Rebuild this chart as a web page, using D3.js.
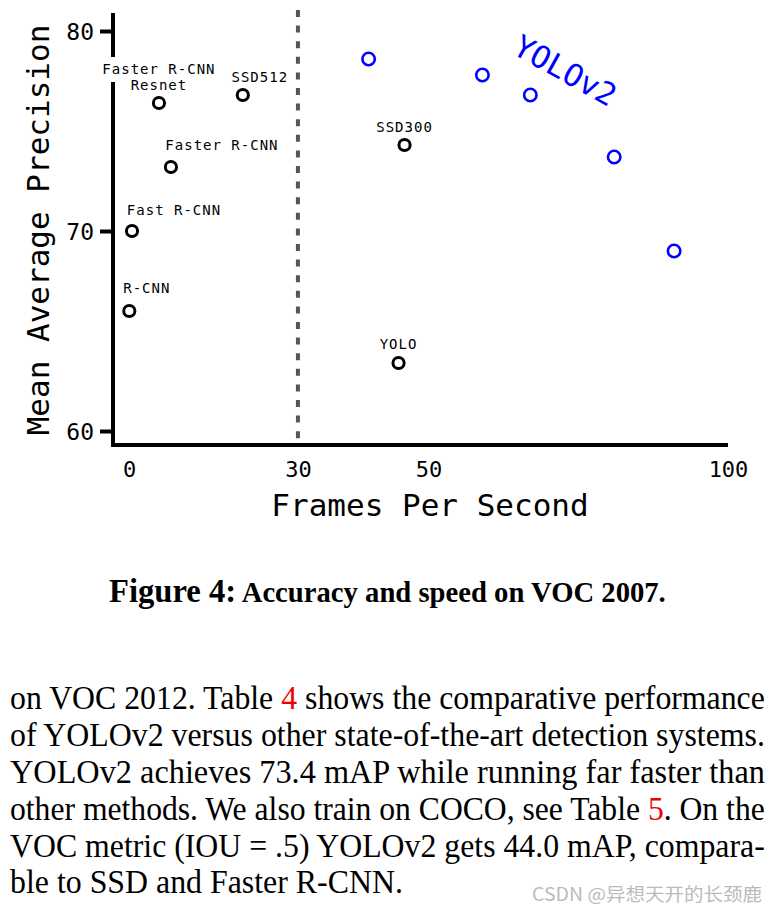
<!DOCTYPE html>
<html><head><meta charset="utf-8">
<script src="https://cdn.jsdelivr.net/npm/d3@7"></script>
<style>html,body{margin:0;padding:0;background:#fff;}svg{display:block;}</style>
</head><body>
<svg id="chart" width="778" height="914"></svg>
<script>
// ---- data ----
const models   = ["R-CNN", "Fast R-CNN", "Faster R-CNN", "Faster R-CNN Resnet", "SSD300", "SSD512", "YOLO"];
const modelFps = [0.05, 0.5, 7, 5, 46, 19, 45];
const modelMap = [66.0, 70.0, 73.2, 76.4, 74.3, 76.8, 63.4];

const yolov2Sizes = ["288", "352", "416", "480", "544"];
const yolov2Fps   = [91, 81, 67, 59, 40];
const yolov2Map   = [69.0, 73.7, 76.8, 77.8, 78.6];

const xTickPositions = [0, 28.2, 50, 100];
const xTickLabels    = ["0", "30", "50", "100"];
const yTicks         = [60, 70, 80];
const realTimeLine   = 28.2;

const xTitle = "Frames Per Second";
const yTitle = "Mean Average Precision";
const seriesLabel = "YOLOv2";

const captionBold = "Figure 4:";
const captionRest = " Accuracy and speed on VOC 2007.";
const paragraph = [
  [["on VOC 2012. Table ", 0], ["4", 1], [" shows the comparative performance", 0]],
  [["of YOLOv2 versus other state-of-the-art detection systems.", 0]],
  [["YOLOv2 achieves 73.4 mAP while running far faster than", 0]],
  [["other methods. We also train on COCO, see Table ", 0], ["5", 1], [". On the", 0]],
  [["VOC metric (IOU = .5) YOLOv2 gets 44.0 mAP, compara-", 0]],
  [["ble to SSD and Faster R-CNN.", 0]]
];
const watermark = "CSDN @异想天开的长颈鹿";

// ---- layout ----
const labelLayout = {
  "R-CNN":               {lines: ["R-CNN"], dx: 17.5, dy: -18},
  "Fast R-CNN":          {lines: ["Fast R-CNN"], dx: 42, dy: -16},
  "Faster R-CNN":        {lines: ["Faster R-CNN"], dx: 51, dy: -17},
  "Faster R-CNN Resnet": {lines: ["Faster R-CNN", "Resnet"], dx: 0, dy: -29},
  "SSD300":              {lines: ["SSD300"], dx: 0, dy: -13},
  "SSD512":              {lines: ["SSD512"], dx: 17, dy: -13},
  "YOLO":                {lines: ["YOLO"], dx: 0, dy: -14}
};

const svg = d3.select("#chart");
svg.append("rect").attr("width", 778).attr("height", 914).attr("fill", "#fff");

const mono = "'DejaVu Sans Mono', monospace";
const serif = "'Liberation Serif', 'Times New Roman', serif";

const x = d3.scaleLinear().domain([0, 100]).range([129, 728]);
const y = d3.scaleLinear().domain([60, 80]).range([431, 31]);
const xAxisY = 445, yAxisX = 113;

const g = svg.append("g");

// dashed real-time line
g.append("line")
  .attr("x1", x(realTimeLine)).attr("x2", x(realTimeLine))
  .attr("y1", 10).attr("y2", xAxisY)
  .attr("stroke", "#555").attr("stroke-width", 4)
  .attr("stroke-dasharray", "7,8.6");

// y axis
const yAxis = d3.axisLeft(y).tickValues(yTicks).tickSize(13).tickPadding(6).tickFormat(d3.format("d"));
const yg = g.append("g").attr("transform", `translate(${yAxisX},0)`).call(yAxis);
yg.select(".domain").remove();
yg.selectAll(".tick line").attr("stroke", "#000").attr("stroke-width", 4);
yg.selectAll(".tick text").attr("font-family", mono).attr("font-size", 23).attr("fill", "#000").attr("dy", "0.36em");
g.append("line").attr("x1", yAxisX).attr("x2", yAxisX).attr("y1", 13).attr("y2", xAxisY + 2)
  .attr("stroke", "#000").attr("stroke-width", 4);

// x axis
const xAxis = d3.axisBottom(x).tickValues(xTickPositions).tickSize(0).tickPadding(16)
  .tickFormat((d, i) => xTickLabels[i]);
const xg = g.append("g").attr("transform", `translate(0,${xAxisY})`).call(xAxis);
xg.select(".domain").remove();
xg.selectAll(".tick text").attr("font-family", mono).attr("font-size", 22).attr("fill", "#000");
g.append("line").attr("x1", yAxisX - 1).attr("x2", 728).attr("y1", xAxisY).attr("y2", xAxisY)
  .attr("stroke", "#000").attr("stroke-width", 4);

// axis titles
g.append("text").attr("x", 430).attr("y", 516).attr("text-anchor", "middle")
  .attr("font-family", mono).attr("font-size", 31).attr("fill", "#000").text(xTitle);
g.append("text").attr("transform", "translate(49,230) rotate(-90)").attr("text-anchor", "middle")
  .attr("font-family", mono).attr("font-size", 31).attr("fill", "#000").text(yTitle);

// point labels with white background
const bgG = g.append("g"), txG = g.append("g");
models.forEach((m, i) => {
  const L = labelLayout[m];
  const cx = x(modelFps[i]) + L.dx, by = y(modelMap[i]) + L.dy;
  L.lines.forEach((line, k) => {
    const t = txG.append("text").attr("x", cx).attr("y", by + k * 16)
      .attr("text-anchor", "middle").attr("font-family", mono).attr("font-size", 14)
      .attr("letter-spacing", 1).attr("fill", "#000").text(line);
    const b = t.node().getBBox();
    bgG.append("rect").attr("x", b.x - 2).attr("y", b.y - 4).attr("width", b.width + 4).attr("height", b.height + 9)
      .attr("fill", "#fff");
  });
});

// points
g.append("g").selectAll("circle").data(models).join("circle")
  .attr("cx", (d, i) => x(modelFps[i])).attr("cy", (d, i) => y(modelMap[i]))
  .attr("r", 5.6).attr("fill", "none").attr("stroke", "#000").attr("stroke-width", 3);
g.append("g").selectAll("circle").data(yolov2Sizes).join("circle")
  .attr("cx", (d, i) => x(yolov2Fps[i])).attr("cy", (d, i) => y(yolov2Map[i]))
  .attr("r", 6.2).attr("fill", "none").attr("stroke", "#0000ff").attr("stroke-width", 2.6);

// YOLOv2 label
g.append("text").attr("transform", "translate(511,53) rotate(29)")
  .attr("font-family", mono).attr("font-size", 31).attr("fill", "#0000ff").text(seriesLabel);

// helper: horizontally scale a text (anchored at its x) to a target width
function fitWidth(sel, x0, y0, target) {
  const L = sel.node().getComputedTextLength();
  const s = target / L;
  sel.attr("x", 0).attr("y", 0).attr("transform", `translate(${x0},${y0}) scale(${s},1)`);
  return s;
}

// caption
const cap = svg.append("text")
  .attr("font-family", serif).attr("font-weight", "bold").attr("fill", "#000");
cap.append("tspan").attr("font-size", 33).text(captionBold);
cap.append("tspan").attr("font-size", 29).text(captionRest);
fitWidth(cap, 109, 602, 557);

// paragraph
const baselines = [709, 746, 783, 820, 857, 893];
const scales = [];
paragraph.forEach((segs, i) => {
  const t = svg.append("text").attr("font-family", serif).attr("font-size", 34).attr("fill", "#000");
  segs.forEach(s => t.append("tspan").attr("fill", s[1] ? "#ee0000" : "#000").text(s[0]));
  if (i < paragraph.length - 1) {
    scales.push(fitWidth(t, 10, baselines[i], 755));
  } else {
    const L = t.node().getComputedTextLength();
    fitWidth(t, 10, baselines[i], L * d3.mean(scales));
  }
});

// watermark
const wm = svg.append("text")
  .attr("font-family", "'Noto Sans CJK SC', 'Noto Sans', sans-serif").attr("font-size", 18)
  .attr("fill", "#bbbbbb").text(watermark);
fitWidth(wm, 532, 901, 230);
</script>
</body></html>
